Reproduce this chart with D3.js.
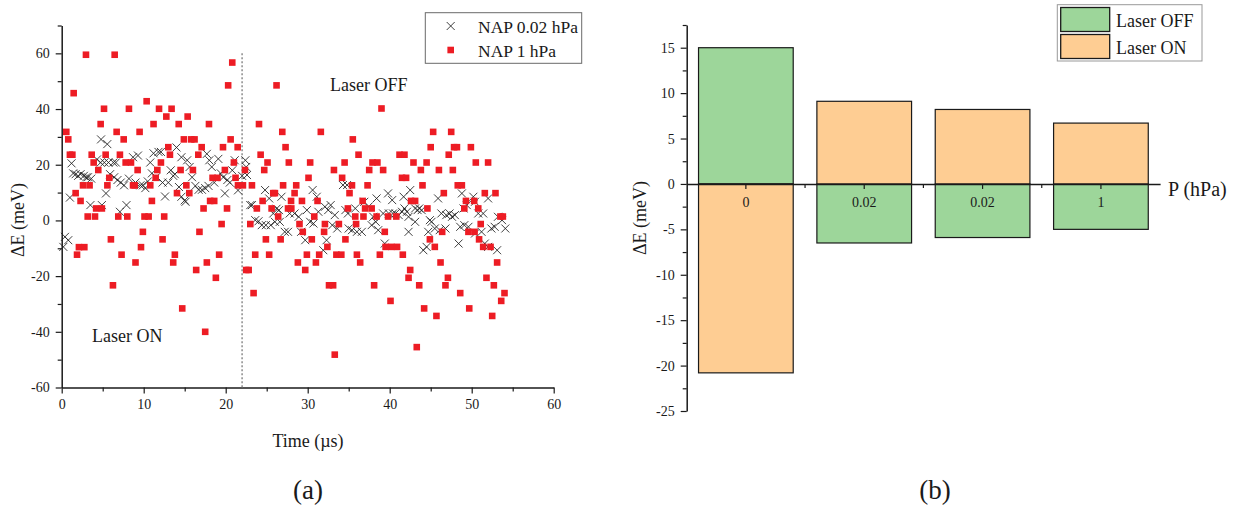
<!DOCTYPE html>
<html><head><meta charset="utf-8">
<script src="https://cdn.jsdelivr.net/npm/d3@7"></script>
<style>
html,body{margin:0;padding:0;background:#fff;}
svg text{font-family:"Liberation Serif","Times New Roman",serif;fill:#1a1a1a;}
</style></head>
<body><svg id="c" width="1242" height="509"></svg>
<script>
// ---------------- DATA ----------------
// Panel (a): NAP 0.02 hPa  [time µs, ΔE meV]
const nap002 = [
[0.2,-9.5],[0.4,-5.9],[0.8,-7.1],[1.0,8.2],[1.2,20.5],[1.4,16.9],[1.7,16.6],[2.0,16.0],[2.3,16.6],[2.7,16.0],
[3.0,15.5],[3.2,15.5],[3.5,5.5],[3.6,15.0],[4.3,21.9],[4.75,20.8],[4.8,29.1],[4.9,5.5],[5.2,20.8],[5.4,9.7],
[5.56,27.4],[5.7,20.8],[5.9,16.6],[6.3,20.8],[6.4,15.5],[6.6,20.8],[6.8,14.5],[7.1,3.1],[7.2,13.6],[7.6,12.6],
[7.9,5.5],[8.2,15.0],[8.7,22.7],[9.0,13.6],[9.3,23.3],[9.6,12.6],[9.9,12.6],[10.2,11.6],[10.5,14.0],[10.8,20.8],
[11.0,16.9],[11.2,24.1],[11.5,15.5],[11.8,24.6],[12.1,24.6],[12.3,13.6],[12.6,8.6],[13.0,13.6],[13.3,18.0],[13.6,16.0],
[13.8,16.6],[14.0,26.2],[14.3,12.0],[14.6,22.7],[14.6,8.5],[15.0,7.2],[15.1,6.7],[15.3,21.6],[15.6,19.2],[15.9,15.5],
[16.3,12.4],[16.7,11.0],[17.1,11.0],[17.5,11.6],[17.7,23.9],[17.9,12.4],[18.0,21.6],[18.3,19.2],[18.6,13.6],[19.1,22.1],
[19.4,16.9],[19.7,15.5],[19.9,9.7],[20.2,14.5],[20.5,13.6],[20.8,18.0],[21.1,21.6],[21.5,10.8],[22.0,16.0],[22.4,21.6],
[22.5,19.2],[22.6,16.3],[23.0,5.5],[23.2,5.5],[23.6,0.1],[24.0,-0.3],[24.4,-1.7],[24.8,10.9],[24.9,-1.7],[25.3,7.9],
[25.5,-1.7],[25.8,2.5],[26.0,-0.5],[26.2,4.2],[26.5,3.7],[26.6,-0.5],[26.8,8.5],[27.2,-4.1],[27.6,-4.1],[27.8,2.5],
[28.4,2.5],[28.9,1.3],[29.2,-4.1],[29.7,-7.1],[29.9,3.7],[30.3,-0.5],[30.6,10.9],[30.7,-1.1],[31.1,8.5],[31.3,3.1],
[31.9,-10.7],[32.1,4.9],[32.3,-7.1],[32.5,3.7],[32.8,5.5],[33.0,-1.7],[33.3,1.9],[33.6,-2.9],[34.3,12.7],[34.6,3.7],
[34.8,12.7],[34.9,2.5],[35.0,-2.9],[35.4,-3.5],[35.8,4.3],[36.0,-4.1],[36.6,-4.1],[36.9,6.7],[37.4,4.9],[37.8,-1.7],
[38.0,1.3],[38.3,-0.5],[38.4,7.9],[38.6,-3.5],[39.2,2.5],[39.4,-8.3],[39.8,9.7],[39.9,2.5],[40.3,7.3],[40.4,2.5],
[40.7,2.5],[41.1,1.9],[41.5,3.1],[41.7,8.5],[41.8,4.3],[42.1,3.1],[42.3,1.3],[42.3,-4.1],[42.5,10.9],[43.1,4.3],
[43.1,-0.5],[43.4,3.7],[43.6,4.3],[43.9,3.7],[44.1,-10.7],[44.5,-9.5],[44.7,-4.1],[44.9,0.1],[45.1,-0.5],[45.5,-2.9],
[45.9,7.9],[46.1,-3.5],[46.3,2.5],[46.8,-2.9],[46.9,1.9],[47.3,2.5],[47.6,1.3],[47.95,1.9],[48.4,-8.3],[48.6,-2.3],
[48.8,9.7],[49.0,4.3],[49.1,-1.7],[49.4,5.5],[49.6,-2.3],[50.2,8.5],[50.4,6.7],[50.4,-4.7],[50.8,2.5],[51.2,-4.1],
[51.4,2.5],[51.6,-8.3],[52.0,-9.5],[52.0,7.9],[52.4,-2.9],[52.8,-2.3],[53.1,-10.7],[53.2,1.3],[53.7,0.1],[54.1,-2.9]
];
// Panel (a): NAP 1 hPa  [time µs, ΔE meV]
const nap1 = [
[0.56,31.8],[0.8,29.1],[1.0,23.6],[1.3,23.6],[1.46,45.7],[1.7,9.8],[1.87,-12.3],[2.1,-9.6],[2.3,7.0],[2.6,12.6],
[2.76,-9.6],[2.96,59.5],[3.17,1.4],[3.4,12.6],[3.66,23.6],[3.9,20.8],[4.06,1.4],[4.2,4.3],[4.46,18.1],[4.75,34.6],
[4.9,4.3],[5.16,40.1],[5.36,23.6],[5.57,12.6],[5.8,15.3],[6.0,-6.8],[6.25,-23.3],[6.46,59.5],[6.7,31.8],[6.9,1.4],
[7.1,23.6],[7.3,-12.3],[7.56,29.1],[7.8,20.8],[8.0,1.4],[8.2,40.1],[8.45,20.8],[8.7,12.6],[8.9,12.6],[9.0,-15.1],
[9.26,18.1],[9.5,31.8],[9.67,-9.6],[9.9,-4.1],[10.1,1.4],[10.36,42.8],[10.6,1.4],[10.8,12.6],[11.0,7.0],[11.2,34.6],
[11.46,15.3],[11.66,18.1],[11.87,40.1],[12.1,20.8],[12.3,-6.8],[12.5,1.4],[12.76,37.3],[13.0,26.3],[13.2,23.6],[13.4,40.1],
[13.6,-15.1],[13.8,-12.3],[14.06,9.8],[14.27,34.6],[14.5,18.1],[14.7,-31.6],[14.9,29.1],[15.2,12.6],[15.36,37.3],[15.56,9.8],
[15.8,29.1],[16.0,18.1],[16.2,29.1],[16.4,-17.8],[16.66,23.6],[16.8,-4.1],[17.07,26.3],[17.3,4.3],[17.5,-40.0],[17.7,-15.1],
[17.96,34.6],[18.1,7.0],[18.4,15.3],[18.6,7.0],[18.8,-20.6],[19.0,15.3],[19.2,-12.3],[19.5,-1.3],[19.67,26.3],[19.9,18.1],
[20.16,4.3],[20.3,48.5],[20.6,29.1],[20.8,56.7],[21.0,20.8],[21.2,15.3],[21.46,26.3],[21.5,12.6],[22.1,12.6],[22.35,18.1],
[22.5,-17.8],[22.8,-17.8],[23.0,-1.3],[23.2,12.6],[23.4,-26.1],[23.6,-12.3],[23.8,4.3],[24.06,34.6],[24.26,23.6],[24.5,7.0],
[24.7,18.1],[24.9,-6.8],[25.1,20.8],[25.3,-12.3],[25.6,4.3],[25.8,9.8],[26.0,9.8],[26.2,48.5],[26.4,1.4],[26.7,-6.8],
[26.9,31.8],[27.0,12.6],[27.3,26.3],[27.6,4.3],[27.7,20.8],[27.97,7.0],[28.0,4.3],[28.4,9.8],[28.6,12.6],[28.8,-15.1],
[29.0,-1.3],[29.3,7.0],[29.4,-4.1],[29.7,-17.8],[29.9,-12.3],[30.1,15.3],[30.3,20.8],[30.5,-6.8],[30.8,1.4],[31.0,-15.1],
[31.2,7.0],[31.4,-12.3],[31.6,31.8],[32.0,-4.1],[32.1,-1.3],[32.4,-9.5],[32.6,-23.3],[33.1,-23.3],[33.2,18.1],[33.3,-48.2],
[33.5,-12.3],[33.8,-1.3],[34.1,-12.3],[34.2,15.3],[34.5,20.8],[34.6,-6.8],[34.9,4.3],[35.1,9.8],[35.4,12.6],[35.5,29.1],
[35.8,1.4],[35.9,-1.3],[36.0,-12.3],[36.2,23.6],[36.4,-15.1],[36.7,7.0],[36.8,1.4],[37.0,4.3],[37.3,12.6],[37.5,18.1],
[37.8,4.3],[37.9,20.8],[38.1,-23.3],[38.4,1.4],[38.5,20.8],[38.8,-12.3],[39.0,40.2],[39.2,18.1],[39.4,-4.1],[39.5,-9.5],
[39.8,1.4],[40.1,-28.9],[40.2,-9.5],[40.8,1.4],[40.9,-9.5],[41.2,23.6],[41.5,15.3],[41.6,-12.3],[41.8,23.6],[42.0,15.3],
[42.3,-20.6],[42.5,-17.8],[42.6,7.0],[42.9,20.8],[43.1,7.0],[43.3,-45.5],[43.6,-23.3],[43.8,18.1],[44.0,12.6],[44.2,-31.6],
[44.5,20.8],[44.6,4.3],[44.9,-6.8],[45.0,26.3],[45.3,31.8],[45.5,-9.5],[45.7,-34.3],[46.0,18.1],[46.2,-15.1],[46.4,-4.1],
[46.6,9.8],[46.8,-23.3],[47.1,-20.6],[47.2,23.6],[47.5,31.8],[47.7,18.1],[47.85,26.3],[48.2,26.3],[48.3,12.6],[48.6,-26.1],
[48.8,12.6],[49.1,4.3],[49.3,7.0],[49.6,-4.1],[49.7,-31.6],[49.9,26.3],[50.3,7.0],[50.35,-4.1],[50.5,20.8],[50.8,4.3],
[50.9,-6.8],[51.1,-1.3],[51.4,-9.5],[51.6,9.8],[51.8,-20.6],[52.0,20.8],[52.3,-9.5],[52.5,-34.3],[52.7,-23.3],[52.9,9.8],
[53.1,-15.1],[53.5,1.4],[53.6,-28.9],[53.8,1.4],[54.0,-26.1]
];
const switchTime = 22;
const seriesNamesA = ["NAP 0.02 hPa", "NAP 1 hPa"];
const xTicksA = [0,10,20,30,40,50,60];
const yTicksA = [-60,-40,-20,0,20,40,60];

// Panel (b)
const pressureLabels = ["0","0.02","0.02","1"];
const laserOff = [15.0, -6.5, -5.9, -5.0];
const laserOn  = [-20.8, 9.1, 8.2, 6.7];
const yTicksB = [-25,-20,-15,-10,-5,0,5,10,15];
const legendB = ["Laser OFF","Laser ON"];

// ---------------- DRAW ----------------
const svg = d3.select("#c");
const ink = "#1a1a1a";
const red = "#ED1C24", green = "#9DD69A", orange = "#FECD93";
const fmt = d => String(d);   // plain hyphen-minus like the original

// ===== Panel (a) =====
const xA = d3.scaleLinear().domain([0,60]).range([61.7,553.7]);
const yA = d3.scaleLinear().domain([-60,70]).range([387.5,25.5]);
const gA = svg.append("g");

function styleAxis(g){
  g.select(".domain").attr("stroke",ink).attr("stroke-width",1.5);
  g.selectAll(".tick line").attr("stroke",ink).attr("stroke-width",1.2);
  g.selectAll(".tick text").attr("font-family","Liberation Serif").attr("font-size",14).attr("fill","#333");
}
function minorStyle(g){ g.select(".domain").remove(); g.selectAll(".tick line").attr("stroke",ink).attr("stroke-width",1.2); }

gA.append("g").attr("transform","translate(0,387.5)")
  .call(d3.axisBottom(xA).tickValues(d3.range(5,60,10)).tickSize(4).tickFormat(""))
  .call(minorStyle);
gA.append("g").attr("transform","translate(61.7,0)")
  .call(d3.axisLeft(yA).tickValues(d3.range(-50,71,10).filter(v=>v%20!==0)).tickSize(4).tickFormat(""))
  .call(minorStyle);
gA.append("g").attr("transform","translate(0,387.5)")
  .call(d3.axisBottom(xA).tickValues(xTicksA).tickFormat(fmt).tickSize(6).tickSizeOuter(0).tickPadding(6))
  .call(styleAxis);
gA.append("g").attr("transform","translate(61.7,0)")
  .call(d3.axisLeft(yA).tickValues(yTicksA).tickFormat(fmt).tickSize(6).tickSizeOuter(0).tickPadding(6))
  .call(styleAxis);

// dotted switch line
gA.append("line")
  .attr("x1",xA(switchTime)).attr("x2",xA(switchTime))
  .attr("y1",yA(60)).attr("y2",yA(-60))
  .attr("stroke","#8c8c8c").attr("stroke-width",1.5).attr("stroke-dasharray","2,2");

// crosses
const cs = 4;
const crossPath = (x,y)=>`M${x-cs},${y-cs}L${x+cs},${y+cs}M${x-cs},${y+cs}L${x+cs},${y-cs}`;
gA.append("g").selectAll("path").data(nap002).join("path")
  .attr("d",d=>crossPath(xA(d[0]),yA(d[1])))
  .attr("stroke","#1c1c1c").attr("stroke-width",0.85).attr("fill","none");
// squares
const sq = 6.6;
gA.append("g").selectAll("rect").data(nap1).join("rect")
  .attr("x",d=>xA(d[0])-sq/2).attr("y",d=>yA(d[1])-sq/2)
  .attr("width",sq).attr("height",sq).attr("fill",red);

// legend (a)
gA.append("rect").attr("x",425.3).attr("y",12.7).attr("width",156.4).attr("height",50.6)
  .attr("fill","#fff").attr("stroke","#6a6a6a").attr("stroke-width",1);
gA.append("path").attr("d",crossPath(450.7,26)).attr("stroke","#1c1c1c").attr("stroke-width",0.85);
gA.append("rect").attr("x",450.7-sq/2).attr("y",50-sq/2).attr("width",sq).attr("height",sq).attr("fill",red);
gA.append("text").attr("x",478).attr("y",32.5).attr("font-size",17.5).text(seriesNamesA[0]);
gA.append("text").attr("x",478).attr("y",56.5).attr("font-size",17.5).text(seriesNamesA[1]);

// annotations
gA.append("text").attr("x",330).attr("y",91).attr("font-size",18).text("Laser OFF");
gA.append("text").attr("x",92).attr("y",342).attr("font-size",18).text("Laser ON");
// axis titles
gA.append("text").attr("x",308).attr("y",446.5).attr("text-anchor","middle").attr("font-size",18).text("Time (µs)");
gA.append("text").attr("transform","translate(24,220) rotate(-90)").attr("text-anchor","middle").attr("font-size",18).text("ΔE (meV)");
gA.append("text").attr("x",308).attr("y",499).attr("text-anchor","middle").attr("font-size",27).text("(a)");

// ===== Panel (b) =====
const keys = pressureLabels.map((d,i)=>String(i));
const xB = d3.scaleBand().domain(keys).range([686.7,1160.1]).paddingInner(0.2).paddingOuter(0.1);
const yB = d3.scaleLinear().domain([-25,17.5]).range([411,25]);
const gB = svg.append("g");

const bars = [];
keys.forEach((k,i)=>{ bars.push({k,v:laserOff[i],c:green}); bars.push({k,v:laserOn[i],c:orange}); });
gB.append("g").selectAll("rect").data(bars).join("rect")
  .attr("x",d=>xB(d.k)).attr("width",xB.bandwidth())
  .attr("y",d=>yB(Math.max(0,d.v))).attr("height",d=>Math.abs(yB(d.v)-yB(0)))
  .attr("fill",d=>d.c).attr("stroke",ink).attr("stroke-width",1.2);

gB.append("g").attr("transform","translate(686.7,0)")
  .call(d3.axisLeft(yB).tickValues(d3.range(-22.5,18,5)).tickSize(4).tickFormat(""))
  .call(minorStyle);
gB.append("g").attr("transform","translate(686.7,0)")
  .call(d3.axisLeft(yB).tickValues(yTicksB).tickFormat(fmt).tickSize(6).tickSizeOuter(0).tickPadding(6))
  .call(styleAxis);
gB.append("g").attr("transform",`translate(0,${yB(0)})`)
  .call(d3.axisBottom(xB).tickFormat(k=>pressureLabels[+k]).tickSize(5).tickSizeOuter(0).tickPadding(8))
  .call(styleAxis);
const between = keys.slice(0,-1).map(k=>xB(k)+xB.bandwidth()+xB.step()*xB.paddingInner()/2);
gB.append("g").selectAll("line").data(between).join("line")
  .attr("x1",d=>d).attr("x2",d=>d).attr("y1",yB(0)).attr("y2",yB(0)+4)
  .attr("stroke",ink).attr("stroke-width",1.2);

gB.append("text").attr("x",1168).attr("y",195.5).attr("font-size",20).text("P (hPa)");
gB.append("text").attr("transform","translate(646,218) rotate(-90)").attr("text-anchor","middle").attr("font-size",18).text("ΔE (meV)");
gB.append("text").attr("x",935).attr("y",499).attr("text-anchor","middle").attr("font-size",27).text("(b)");

// legend (b)
gB.append("rect").attr("x",1057.3).attr("y",4.7).attr("width",144.7).attr("height",56.3)
  .attr("fill","#fff").attr("stroke","#999").attr("stroke-width",1);
[green,orange].forEach((c,i)=>{
  gB.append("rect").attr("x",1060.7).attr("y",7.5+i*27).attr("width",49).attr("height",24)
    .attr("fill",c).attr("stroke",ink).attr("stroke-width",1.3);
  gB.append("text").attr("x",1116).attr("y",27+i*27).attr("font-size",18).text(legendB[i]);
});
</script></body></html>
